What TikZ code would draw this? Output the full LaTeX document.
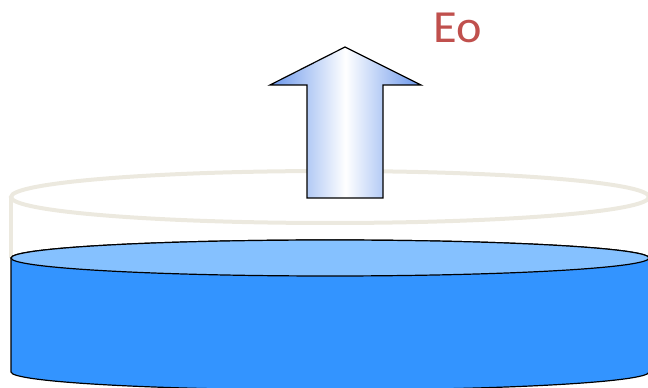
\documentclass[tikz,border=0pt]{standalone}
\usepackage{fontspec}
\setmainfont{Carlito}
\usetikzlibrary{positioning}

\definecolor{ghost}{RGB}{236,233,223}
\definecolor{waterside}{RGB}{51,148,255}
\definecolor{watertop}{RGB}{133,193,255}
\definecolor{eored}{RGB}{192,80,77}
\definecolor{arrowblue}{RGB}{105,150,235}

\begin{document}
\begin{tikzpicture}[x=1pt,y=1pt]
      \useasboundingbox (0,0) rectangle (648,388);

      % empty dish outline
      \draw[ghost, line width=4] (11,191) -- (11,130);
      \draw[ghost, line width=4] (330,191) ellipse [x radius=319, y radius=26];

      % liquid
      \filldraw[fill=waterside, draw=black, line width=1.2] (11,130) -- (11,16)
        arc[start angle=180, end angle=360, x radius=319, y radius=18] -- (649,130)
        arc[start angle=0, end angle=180, x radius=319, y radius=18] -- cycle;
      \filldraw[fill=watertop, draw=black, line width=1.2] (330,130) ellipse [x radius=319, y radius=18];

      % outgoing energy
      \draw[black, line width=1.2, left color=arrowblue, right color=arrowblue, middle color=white]
        (345,341) -- (421,303) -- (383,303) -- (383,190) -- (307,190) -- (307,303) -- (270,303) -- cycle;
      \node[text=eored, font=\fontsize{46}{50}\selectfont, xscale=1.05] (eo) at (458,360) {Eo};
\end{tikzpicture}
\end{document}
